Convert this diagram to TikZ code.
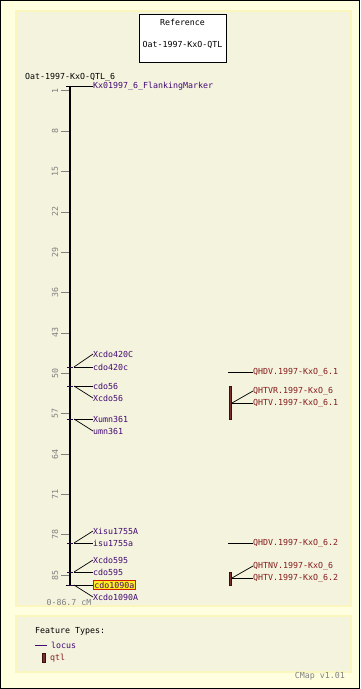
\documentclass[tikz,border=0pt]{standalone}
\usepackage{fontspec}
\setmonofont{DejaVu Sans Mono}
\usetikzlibrary{positioning}
\definecolor{outerbg}{HTML}{FFFFE0}
\definecolor{panelbg}{HTML}{F4F3DE}
\definecolor{panelline}{HTML}{FBF5BE}
\definecolor{locuscol}{HTML}{420A72}
\definecolor{qtlcol}{HTML}{851C1C}
\definecolor{barfill}{HTML}{7A3030}
\definecolor{barline}{HTML}{3A1010}
\definecolor{scalecol}{HTML}{808080}
\definecolor{hilite}{HTML}{FFEE22}
\definecolor{hiliteline}{HTML}{D02000}

\begin{document}
\begin{tikzpicture} [x=1pt, y=-1pt,
  every node/.style={font=\ttfamily\fontsize{8.3}{9}\selectfont, inner sep=0pt},
  locus/.style={anchor=west, text=locuscol},
  qtl/.style={anchor=west, text=qtlcol},
  scalelbl/.style={rotate=90, text=scalecol},
  conn/.style={draw=black, line width=0.7pt},
  locusmark/.style={draw=locuscol!60!black, line width=1pt},
  qtlbar/.style={draw=barline, fill=barfill, line width=0.6pt}]
            % background and panels
            \fill[outerbg] (0,0) rectangle (360,689);
            \draw[black, line width=1.2pt] (0.6,0.6) rectangle (359.4,688.4);
            \filldraw[draw=panelline, line width=1.6pt, fill=panelbg] (16,11) rectangle (351,606);
            \filldraw[draw=panelline, line width=1.6pt, fill=panelbg] (16,616) rectangle (351,672);
            \useasboundingbox (0,0) rectangle (360,689);

            % reference box
            \node[draw, fill=white, line width=0.8pt, minimum width=87pt, minimum height=48pt] (refbox) at (182.5,38) {};
            \node (reftitle) at (182.5,22) {Reference};
            \node (refname)  at (182.5,45) {Oat-1997-KxO-QTL};

            % map axis
            \node[anchor=west] (mapname) at (25,77) {Oat-1997-KxO-QTL\_6};
            \coordinate (top) at (70,86);
            \coordinate (bot) at (70,585);
            \draw[line width=2.4pt] (top) -- (bot);
            \draw[line width=1pt] (66,86) -- (74,86);
            \draw[line width=1pt] (66,585) -- (74,585);

            % scale
            \foreach \c in {1,8,...,85} {
                \draw[scalecol, line width=0.7pt] (61,85+5.766*\c) -- (69,85+5.766*\c);
                \node[scalelbl] at (55,85+5.766*\c) {\c};
            }
            \node[text=scalecol] (range) at (69,602) {0-86.7 cM};

            % loci
            \coordinate (pflank) at (74,86);
            \node[locus] (flank) at (93,86) {Kx01997\_6\_FlankingMarker};
            \draw[conn] (pflank) -- (flank.west);

            \foreach \y in {367,386,419,543,572,585}
                \draw[locusmark] (67,\y) -- (73,\y);

            \coordinate (p420) at (74,367);
            \node[locus] (Xcdo420C) at (93,354) {Xcdo420C};
            \node[locus] (cdo420c)  at (93,367) {cdo420c};
            \coordinate (p56) at (74,386);
            \node[locus] (cdo56)  at (93,386) {cdo56};
            \node[locus] (Xcdo56) at (93,398) {Xcdo56};
            \coordinate (p361) at (74,419);
            \node[locus] (Xumn361) at (93,419) {Xumn361};
            \node[locus] (umn361)  at (93,431) {umn361};
            \coordinate (p1755) at (74,543);
            \node[locus] (Xisu1755A) at (93,531) {Xisu1755A};
            \node[locus] (isu1755a)  at (93,543) {isu1755a};
            \coordinate (p595) at (74,572);
            \node[locus] (Xcdo595) at (93,560) {Xcdo595};
            \node[locus] (cdo595)  at (93,572) {cdo595};
            \coordinate (p1090) at (74,585);
            \node[locus, fill=hilite, draw=hiliteline, line width=0.8pt, inner sep=1pt] (cdo1090a) at (93,585) {cdo1090a};
            \node[locus] (Xcdo1090A) at (93,597) {Xcdo1090A};

            \draw[conn] (p420) -- (Xcdo420C.west);
            \draw[conn] (p420) -- (cdo420c.west);
            \draw[conn] (p56) -- (cdo56.west);
            \draw[conn] (p56) -- (Xcdo56.west);
            \draw[conn] (p361) -- (Xumn361.west);
            \draw[conn] (p361) -- (umn361.west);
            \draw[conn] (p1755) -- (Xisu1755A.west);
            \draw[conn] (p1755) -- (isu1755a.west);
            \draw[conn] (p595) -- (Xcdo595.west);
            \draw[conn] (p595) -- (cdo595.west);
            \draw[conn] (p1090) -- (cdo1090a.west);
            \draw[conn] (p1090) -- (Xcdo1090A.west);

            % qtls
            \coordinate (qhdv1) at (228,372);
            \node[qtl] (QHDV1) at (253,372) {QHDV.1997-KxO\_6.1};
            \draw[conn] (qhdv1) -- (QHDV1.west);

            \filldraw[qtlbar] (229,386) rectangle (231.5,419);
            \coordinate (qhtv1) at (232,403);
            \node[qtl] (QHTVR) at (253,391) {QHTVR.1997-KxO\_6};
            \node[qtl] (QHTV1) at (253,403) {QHTV.1997-KxO\_6.1};
            \draw[conn] (qhtv1) -- (QHTVR.west);
            \draw[conn] (qhtv1) -- (QHTV1.west);

            \coordinate (qhdv2) at (228,543);
            \node[qtl] (QHDV2) at (253,543) {QHDV.1997-KxO\_6.2};
            \draw[conn] (qhdv2) -- (QHDV2.west);

            \filldraw[qtlbar] (229,572) rectangle (231.5,585);
            \coordinate (qhtv2) at (232,578);
            \node[qtl] (QHTNV) at (253,566) {QHTNV.1997-KxO\_6};
            \node[qtl] (QHTV2) at (253,578) {QHTV.1997-KxO\_6.2};
            \draw[conn] (qhtv2) -- (QHTNV.west);
            \draw[conn] (qhtv2) -- (QHTV2.west);

            % legend
            \node[anchor=west] (legtitle) at (35,631) {Feature Types:};
            \coordinate (leglocus) at (35,645);
            \coordinate (leglocusend) at (47,645);
            \node[locus] (leglocuslbl) at (51,645) {locus};
            \draw[locuscol, line width=0.8pt] (leglocus) -- (leglocusend);
            \filldraw[qtlbar] (42.5,653.5) rectangle (45.5,662);
            \node[qtl] (legqtl) at (50,658) {qtl};

            \node[anchor=east, text=scalecol] (version) at (345,676) {CMap v1.01};
        \end{tikzpicture}
\end{document}
